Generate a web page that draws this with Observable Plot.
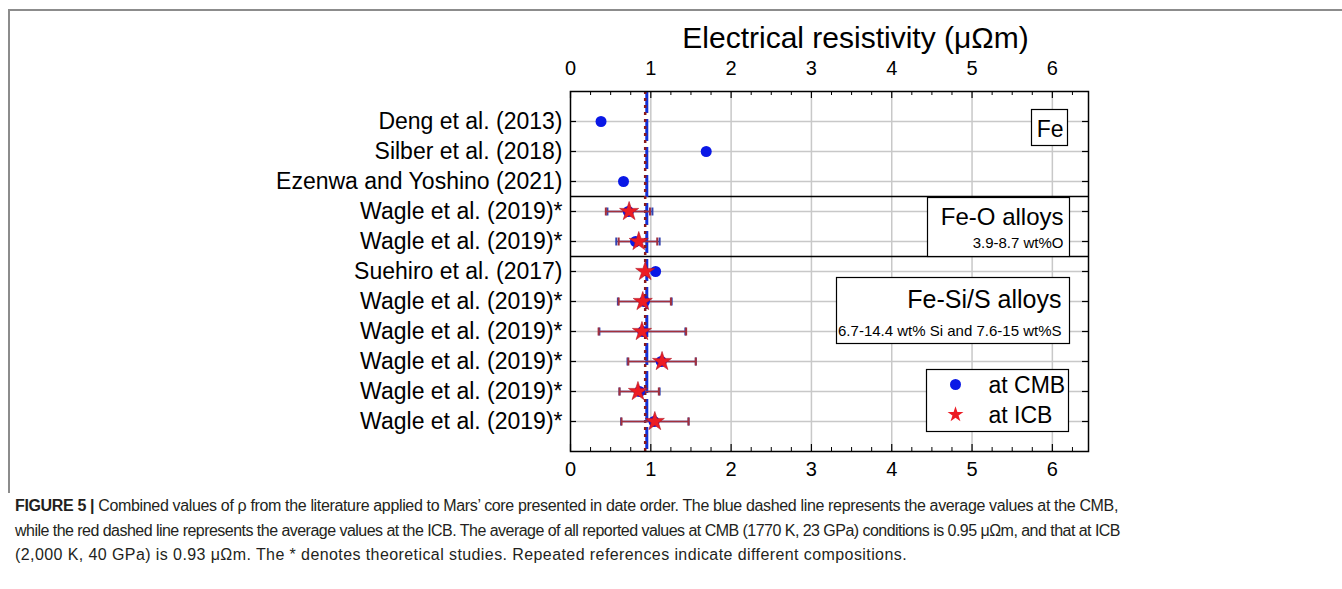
<!DOCTYPE html>
<html>
<head>
<meta charset="utf-8">
<script src="https://cdn.jsdelivr.net/npm/d3@7"></script>
<script src="https://cdn.jsdelivr.net/npm/@observablehq/plot@0.6"></script>
<style>
  html, body { margin: 0; padding: 0; background: white; }
  #wrap { position: relative; width: 1342px; height: 589px; overflow: hidden; }
  #border { position: absolute; left: 8px; top: 9px; width: 1400px; height: 482px;
            border-top: 2px solid #8c8c8c; border-left: 2px solid #8c8c8c; z-index: 2; pointer-events: none; }
  #chart { position: absolute; left: 0; top: 0; }
  #caption { position: absolute; left: 15px; top: 494px; font-family: "Liberation Sans", Arial, sans-serif;
             font-size: 16px; line-height: 24.5px; color: #231f20; white-space: nowrap; }
  #caption div { display: block; width: max-content; }
  #caption b { font-weight: bold; }
</style>
</head>
<body>
<div id="wrap">
  <div id="border"></div>
  <div id="chart"></div>
  <div id="caption">
    <div data-fit="1103"><b>FIGURE 5 |</b> Combined values of ρ from the literature applied to Mars’ core presented in date order. The blue dashed line represents the average values at the CMB,</div>
    <div data-fit="1105">while the red dashed line represents the average values at the ICB. The average of all reported values at CMB (1770 K, 23 GPa) conditions is 0.95 μΩm, and that at ICB</div>
    <div data-fit="892">(2,000 K, 40 GPa) is 0.93 μΩm. The * denotes theoretical studies. Repeated references indicate different compositions.</div>
  </div>
</div>
<script>
// ---- data ----
const refs = [
  "Deng et al. (2013)", "Silber et al. (2018)", "Ezenwa and Yoshino (2021)",
  "Wagle et al. (2019)*", "Wagle et al. (2019)*",
  "Suehiro et al. (2017)", "Wagle et al. (2019)*", "Wagle et al. (2019)*",
  "Wagle et al. (2019)*", "Wagle et al. (2019)*", "Wagle et al. (2019)*"
];
const groupSizes = [3, 2, 6];
const cmb   = [0.38, 1.69, 0.66, 0.72, 0.81, 1.06, 0.92, 0.90, 1.13, 0.86, 1.04];
const cmbLo = [null, null, null, 0.46, 0.57, null, 0.59, 0.36, 0.71, 0.61, 0.63];
const cmbHi = [null, null, null, 1.02, 1.11, null, 1.26, 1.43, 1.56, 1.11, 1.47];
const icb   = [null, null, null, 0.73, 0.85, 0.93, 0.90, 0.89, 1.14, 0.84, 1.05];
const icbLo = [null, null, null, 0.44, 0.60, null, 0.60, 0.35, 0.72, 0.61, 0.635];
const icbHi = [null, null, null, 0.99, 1.08, null, 1.25, 1.44, 1.56, 1.10, 1.47];
const avgCMB = 0.95;
const avgICB = 0.93;
const xTicks = [0, 1, 2, 3, 4, 5, 6];
const xTitle = "Electrical resistivity (μΩm)";
const groupNames = ["Fe", "Fe-O alloys", "Fe-Si/S alloys"];
const groupNotes = ["3.9-8.7 wt%O", "6.7-14.4 wt% Si and 7.6-15 wt%S"];
const legendLabels = ["at CMB", "at ICB"];

// ---- derived tables ----
const rows = refs.map((ref, i) => ({
  row: i + 1, ref, cmb: cmb[i], cmbLo: cmbLo[i], cmbHi: cmbHi[i],
  icb: icb[i], icbLo: icbLo[i], icbHi: icbHi[i]
}));
const breaks = [];
groupSizes.slice(0, -1).reduce((acc, n) => { breaks.push(acc + n + 0.5); return acc + n; }, 0);
const minor = d3.range(1, 26).map(k => k * 0.25).filter(v => v % 1 !== 0);
const errC = rows.filter(d => d.cmbLo != null);
const errI = rows.filter(d => d.icbLo != null);
const starRows = rows.filter(d => d.icb != null);

const vbar = { draw(ctx, size) { const r = Math.sqrt(size / Math.PI); ctx.moveTo(0, -r); ctx.lineTo(0, r); } };

const blue = "#0a18e6", red = "#ec1c24", errRed = "#a3303c", errBlue = "#3444b0";
const FW = 518, FH = 360;

const chart = Plot.plot({
  width: 1342, height: 485,
  marginLeft: 570, marginRight: 254, marginTop: 91, marginBottom: 34,
  style: { fontFamily: "'Liberation Sans', Arial, sans-serif", color: "black", background: "transparent" },
  x: { domain: [0, 6.45] },
  y: { domain: [0, 12], reverse: true },
  marks: [
    // grid
    Plot.ruleX(xTicks.slice(1), { stroke: "#c8c8c8", strokeWidth: 1.5 }),
    Plot.ruleY(rows, { y: "row", stroke: "#c8c8c8", strokeWidth: 1.5 }),
    // group separators
    Plot.ruleY(breaks, { stroke: "black", strokeWidth: 1.5 }),
    // inner ticks
    Plot.ruleX(xTicks, { stroke: "black", strokeWidth: 1.2, insetBottom: FH - 7 }),
    Plot.ruleX(xTicks, { stroke: "black", strokeWidth: 1.2, insetTop: FH - 7 }),
    Plot.ruleX(minor, { stroke: "black", strokeWidth: 1, insetBottom: FH - 4 }),
    Plot.ruleX(minor, { stroke: "black", strokeWidth: 1, insetTop: FH - 4 }),
    Plot.ruleY(rows, { y: "row", stroke: "black", strokeWidth: 1.2, insetRight: FW - 6 }),
    Plot.ruleY(rows, { y: "row", stroke: "black", strokeWidth: 1.2, insetLeft: FW - 6 }),
    // average lines
    Plot.ruleX([avgCMB], { stroke: "#1230d8", strokeWidth: 3, strokeDasharray: "22,6" }),
    Plot.ruleX([avgICB], { stroke: "#8b1a1a", strokeWidth: 2.5, strokeDasharray: "3,4" }),
    // error bars CMB
    Plot.ruleY(errC, { y: "row", x1: "cmbLo", x2: "cmbHi", stroke: errBlue, strokeWidth: 1.5 }),
    Plot.dot(errC, { x: "cmbLo", y: "row", symbol: vbar, r: 4, stroke: errBlue, strokeWidth: 2 }),
    Plot.dot(errC, { x: "cmbHi", y: "row", symbol: vbar, r: 4, stroke: errBlue, strokeWidth: 2 }),
    // error bars ICB
    Plot.ruleY(errI, { y: "row", x1: "icbLo", x2: "icbHi", stroke: errRed, strokeWidth: 1.5 }),
    Plot.dot(errI, { x: "icbLo", y: "row", symbol: vbar, r: 4, stroke: errRed, strokeWidth: 2 }),
    Plot.dot(errI, { x: "icbHi", y: "row", symbol: vbar, r: 4, stroke: errRed, strokeWidth: 2 }),
    // points
    Plot.dot(rows, { x: "cmb", y: "row", r: 5.5, fill: blue }),
    Plot.dot(starRows, { x: "icb", y: "row", symbol: "star", r: 6, fill: red, stroke: "#b01424", strokeWidth: 0.6 }),
    // frame
    Plot.frame({ stroke: "black", strokeWidth: 1.5 }),
    // annotation boxes
    Plot.frame({ insetLeft: 461, insetRight: 21, insetTop: 18, insetBottom: 306, fill: "white", stroke: "black", strokeWidth: 1.2 }),
    Plot.frame({ insetLeft: 357, insetRight: 19, insetTop: 106, insetBottom: 195, fill: "white", stroke: "black", strokeWidth: 1.2 }),
    Plot.frame({ insetLeft: 266, insetRight: 19, insetTop: 186, insetBottom: 108, fill: "white", stroke: "black", strokeWidth: 1.2 }),
    Plot.frame({ insetLeft: 356, insetRight: 20, insetTop: 278, insetBottom: 20, fill: "white", stroke: "black", strokeWidth: 1.2 }),
    Plot.text([groupNames[0]], { frameAnchor: "top-right", textAnchor: "end", lineAnchor: "bottom", dx: -25, dy: 45, fontSize: 23 }),
    Plot.text([groupNames[1]], { frameAnchor: "top-right", textAnchor: "end", lineAnchor: "bottom", dx: -25, dy: 133, fontSize: 24 }),
    Plot.text([groupNotes[0]], { frameAnchor: "top-right", textAnchor: "end", lineAnchor: "bottom", dx: -25, dy: 156, fontSize: 15 }),
    Plot.text([groupNames[2]], { frameAnchor: "top-right", textAnchor: "end", lineAnchor: "bottom", dx: -27, dy: 216, fontSize: 25 }),
    Plot.text([groupNotes[1]], { frameAnchor: "top-right", textAnchor: "end", lineAnchor: "bottom", dx: -27, dy: 244, fontSize: 15 }),
    // legend
    Plot.dot([legendLabels[0]], { frameAnchor: "top-right", dx: -133, dy: 293, r: 5.5, fill: blue }),
    Plot.dot([legendLabels[1]], { frameAnchor: "top-right", dx: -133, dy: 323, r: 5, symbol: "star", fill: red }),
    Plot.text([legendLabels[0]], { frameAnchor: "top-right", textAnchor: "start", lineAnchor: "bottom", dx: -100, dy: 301, fontSize: 23 }),
    Plot.text([legendLabels[1]], { frameAnchor: "top-right", textAnchor: "start", lineAnchor: "bottom", dx: -100, dy: 331, fontSize: 23 }),
    // axes
    Plot.axisX(xTicks, { anchor: "top", tickSize: 0, tickPadding: 17, fontSize: 20, label: null }),
    Plot.axisX(xTicks, { anchor: "bottom", tickSize: 0, tickPadding: 10, fontSize: 20, label: null }),
    Plot.axisY(rows.map(d => d.row), { anchor: "left", tickSize: 0, tickPadding: 8, fontSize: 23, label: null, tickFormat: i => refs[i - 1] }),
    Plot.text([xTitle], { frameAnchor: "top", lineAnchor: "bottom", dx: 26, dy: -44, fontSize: 30 })
  ]
});
document.getElementById("chart").appendChild(chart);

// fit justified caption lines to their measured widths
document.querySelectorAll("#caption [data-fit]").forEach(el => {
  const target = +el.dataset.fit;
  const natural = el.getBoundingClientRect().width;
  const n = el.textContent.length;
  el.style.letterSpacing = ((target - natural) / n) + "px";
});
</script>
</body>
</html>
